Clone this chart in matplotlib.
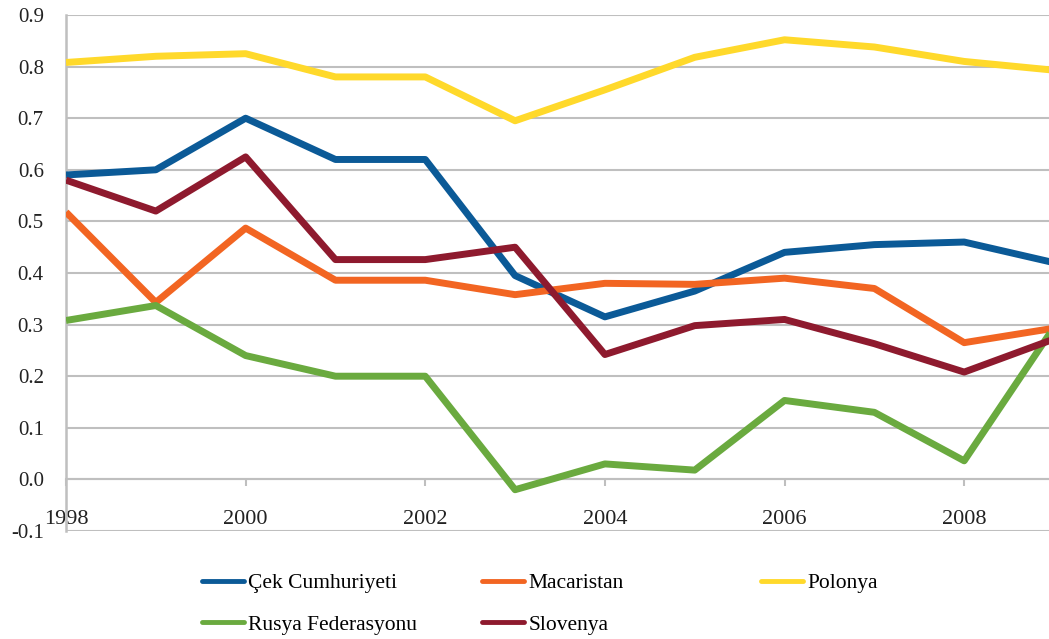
import numpy as np
import matplotlib.pyplot as plt

years = [1998, 1999, 2000, 2001, 2002, 2003, 2004, 2005, 2006, 2007, 2008, 2009]
cek = [0.59, 0.60, 0.70, 0.62, 0.62, 0.395, 0.315, 0.365, 0.44, 0.455, 0.46, 0.42]
macaristan = [0.518, 0.343, 0.487, 0.386, 0.386, 0.358, 0.38, 0.378, 0.39, 0.37, 0.265, 0.293]
polonya = [0.808, 0.82, 0.825, 0.78, 0.78, 0.695, 0.755, 0.818, 0.852, 0.838, 0.81, 0.793]
rusya = [0.308, 0.337, 0.24, 0.20, 0.20, -0.02, 0.03, 0.018, 0.153, 0.13, 0.036, 0.295]
slovenya = [0.58, 0.52, 0.625, 0.426, 0.426, 0.45, 0.242, 0.298, 0.31, 0.263, 0.208, 0.272]

names = ["Çek Cumhuriyeti", "Macaristan", "Polonya", "Rusya Federasyonu", "Slovenya"]
colors = ["#0B5A97", "#F26522", "#FFD92B", "#6AAA3F", "#8E1A2E"]
series = [cek, macaristan, polonya, rusya, slovenya]

yticks = [-0.1, 0.0, 0.1, 0.2, 0.3, 0.4, 0.5, 0.6, 0.7, 0.8, 0.9]
xticks = [1998, 2000, 2002, 2004, 2006, 2008]

plt.rcParams['font.family'] = ['Liberation Serif', 'DejaVu Serif']

fig = plt.figure(figsize=(10.49, 6.39), dpi=100)
ax = fig.add_axes([66/1049, 1 - 531/639, (1054 - 66)/1049, (531 - 15)/639])

lines = []
for vals, name, c in zip(series, names, colors):
    ln, = ax.plot(years, vals, color=c, lw=5, label=name, solid_capstyle='butt', zorder=3)
    lines.append(ln)

ax.set_xlim(1998, 2009)
ax.set_ylim(-0.1, 0.9)
ax.set_yticks(yticks)
ax.set_yticklabels(["%.1f" % v for v in yticks])
ax.set_xticks(xticks)
ax.set_xticklabels([str(y) for y in xticks])

ax.grid(axis='y', color="#BFBFBF", lw=1.5, zorder=0)
for s in ['top', 'right']:
    ax.spines[s].set_visible(False)
ax.spines['left'].set_color("#BFBFBF")
ax.spines['left'].set_linewidth(1.8)
ax.spines['bottom'].set_position(('data', 0))
ax.spines['bottom'].set_color("#BFBFBF")
ax.spines['bottom'].set_linewidth(1.5)
ax.tick_params(axis='x', color="#BFBFBF", width=1.5, length=5, pad=17,
               labelsize=16, labelcolor="#222222")
ax.tick_params(axis='y', length=0, pad=16, labelsize=15, labelcolor="#222222")

# legend as three columns placed like the reference
cols = [[0, 3], [1, 4], [2]]
col_x = [202, 482, 761]
for idx, x in zip(cols, col_x):
    leg = fig.legend([lines[i] for i in idx], [names[i] for i in idx],
                     loc='upper left', bbox_to_anchor=(x/1049, 1 - 573/639),
                     frameon=False, fontsize=15.5, handlelength=1.95,
                     handletextpad=0.2, labelspacing=1.0, borderpad=0,
                     borderaxespad=0)
    for h in leg.get_lines():
        h.set_linewidth(3.5)
        h.set_solid_capstyle('round')

fig.savefig("out.png", dpi=100)
